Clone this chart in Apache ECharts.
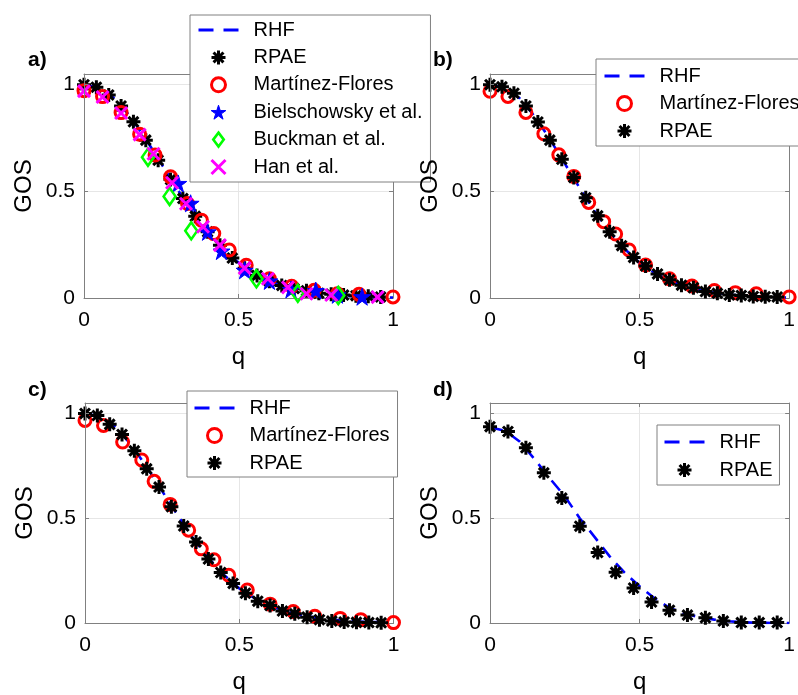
<!DOCTYPE html>
<html>
<head>
<meta charset="utf-8">
<script src="https://cdn.jsdelivr.net/npm/echarts@6/dist/echarts.min.js"></script>
<style>
  html, body { margin: 0; padding: 0; background: #ffffff; }
  #chart { width: 798px; height: 695px; }
</style>
</head>
<body>
<div id="chart"></div>
<script>
// ---------- axis ticks (all four panels) ----------
const qTicks = [0, 0.5, 1];
const gosTicks = [0, 0.5, 1];
const gosTop = 1.05;

// ---------- RHF curves ----------
const rhfQ = [0, 0.05, 0.1, 0.15, 0.2, 0.25, 0.3, 0.35, 0.4, 0.45, 0.5,
              0.55, 0.6, 0.65, 0.7, 0.75, 0.8, 0.85, 0.9, 0.95, 1.0];
const rhfABC = [1.0, 0.985, 0.935, 0.85, 0.745, 0.63, 0.515, 0.405, 0.31, 0.23, 0.165,
                0.118, 0.082, 0.056, 0.038, 0.025, 0.016, 0.010, 0.006, 0.004, 0.002];
const rhfD = [0.934, 0.918, 0.865, 0.78, 0.69, 0.605, 0.50, 0.41, 0.318, 0.24, 0.175,
              0.118, 0.072, 0.045, 0.028, 0.016, 0.008, 0.003, 0.001, 0.0, 0.0];

// ---------- RPAE ----------
const rpaeQ = [0, 0.04, 0.08, 0.12, 0.16, 0.2, 0.24, 0.28, 0.32, 0.36, 0.4, 0.44, 0.48,
               0.52, 0.56, 0.6, 0.64, 0.68, 0.72, 0.76, 0.8, 0.84, 0.88, 0.92, 0.96];
const rpaeA = [1.0, 0.988, 0.952, 0.90, 0.826, 0.74, 0.646, 0.555, 0.466, 0.383, 0.31, 0.247, 0.187,
               0.14, 0.106, 0.078, 0.059, 0.044, 0.034, 0.022, 0.017, 0.014, 0.011, 0.008, 0.005];
const rpaeB = [1.0, 0.99, 0.96, 0.90, 0.825, 0.74, 0.65, 0.565, 0.47, 0.385, 0.31, 0.245, 0.19,
               0.15, 0.113, 0.085, 0.06, 0.048, 0.03, 0.022, 0.014, 0.012, 0.007, 0.006, 0.005];
const rpaeC = [1.0, 0.99, 0.948, 0.90, 0.822, 0.736, 0.649, 0.555, 0.463, 0.387, 0.305, 0.241, 0.189,
               0.142, 0.104, 0.083, 0.057, 0.044, 0.028, 0.016, 0.009, 0.005, 0.003, 0.002, 0.001];
const rpaeQD = [0, 0.06, 0.12, 0.18, 0.24, 0.3, 0.36, 0.42, 0.48, 0.54, 0.6, 0.66, 0.72, 0.78, 0.84, 0.9, 0.96];
const rpaeD = [0.937, 0.914, 0.836, 0.717, 0.596, 0.462, 0.336, 0.242, 0.167, 0.10, 0.061,
               0.038, 0.025, 0.009, 0.002, 0.002, 0.002];

// ---------- Martínez-Flores ----------
const mfQA = [0, 0.06, 0.12, 0.18, 0.23, 0.28, 0.335, 0.38, 0.42, 0.47, 0.525, 0.6, 0.672, 0.745, 0.82, 0.89, 1.0];
const mfA  = [0.972, 0.944, 0.869, 0.768, 0.670, 0.568, 0.443, 0.365, 0.302, 0.225, 0.153, 0.09, 0.055, 0.036, 0.02, 0.017, 0.005];
const mfQB = [0, 0.06, 0.12, 0.18, 0.23, 0.28, 0.33, 0.38, 0.42, 0.465, 0.52, 0.6, 0.675, 0.75, 0.82, 0.89, 1.0];
const mfB  = [0.969, 0.945, 0.870, 0.770, 0.671, 0.570, 0.448, 0.358, 0.30, 0.225, 0.155, 0.09, 0.056, 0.035, 0.025, 0.02, 0.005];
const mfQC = [0, 0.06, 0.122, 0.184, 0.224, 0.276, 0.336, 0.377, 0.418, 0.466, 0.526, 0.6, 0.675, 0.745, 0.827, 0.894, 1.0];
const mfC  = [0.967, 0.943, 0.864, 0.778, 0.676, 0.566, 0.443, 0.354, 0.302, 0.228, 0.157, 0.09, 0.055, 0.032, 0.022, 0.016, 0.002];

// ---------- other measurements (panel a) ----------
const bielQ = [0.305, 0.345, 0.40, 0.445, 0.52, 0.60, 0.67, 0.75, 0.82, 0.90];
const bielV = [0.537, 0.444, 0.31, 0.22, 0.13, 0.08, 0.04, 0.035, 0.015, 0.006];
const buckQ = [0.207, 0.277, 0.347, 0.558, 0.692, 0.823];
const buckV = [0.66, 0.476, 0.315, 0.09, 0.022, 0.012];
const hanQ = [0, 0.06, 0.12, 0.18, 0.225, 0.285, 0.33, 0.385, 0.44, 0.52, 0.595, 0.66, 0.72, 0.80, 0.95];
const hanV = [0.97, 0.942, 0.867, 0.766, 0.676, 0.54, 0.442, 0.334, 0.248, 0.14, 0.09, 0.05, 0.02, 0.014, 0.004];

// ---------- look ----------
const FONT = '"Liberation Sans", Arial, Helvetica, sans-serif';
const BOX = '#808080';
const GRIDLINE = '#e6e6e6';

const ASTERISK = 'path://M0,-10L0,10M-10,0L10,0M-7.07,-7.07L7.07,7.07M-7.07,7.07L7.07,-7.07';
const PENTAGRAM = 'path://M0,-10L2.245,-3.09L9.511,-3.09L3.633,1.18L5.878,8.09L0,3.82L-5.878,8.09L-3.633,1.18L-9.511,-3.09L-2.245,-3.09Z';
const CROSS = 'path://M-5,-5L5,5M-5,5L5,-5';
const DIAMOND = 'path://M0,-8L6,0L0,8L-6,0Z';

const kinds = {
  'RHF': { type: 'line', symbol: 'none', lineStyle: { color: '#0000ff', width: 2.6, type: [13, 8] } },
  'RPAE': { type: 'scatter', symbol: ASTERISK, symbolSize: 14,
            itemStyle: { color: 'rgba(0,0,0,0)', borderColor: '#000000', borderWidth: 3, opacity: 1 } },
  'Martínez-Flores': { type: 'scatter', symbol: 'circle', symbolSize: 12,
            itemStyle: { color: 'rgba(0,0,0,0)', borderColor: '#ff0000', borderWidth: 3, opacity: 1 } },
  'Bielschowsky et al.': { type: 'scatter', symbol: PENTAGRAM, symbolSize: 17,
            itemStyle: { color: '#0000ff', borderColor: '#0000ff', borderWidth: 1, opacity: 1 } },
  'Buckman et al.': { type: 'scatter', symbol: DIAMOND, symbolSize: [12, 17],
            itemStyle: { color: 'rgba(0,0,0,0)', borderColor: '#00ff00', borderWidth: 2.6, opacity: 1 } },
  'Han et al.': { type: 'scatter', symbol: CROSS, symbolSize: 12,
            itemStyle: { color: 'rgba(0,0,0,0)', borderColor: '#ff00ff', borderWidth: 3, opacity: 1 } }
};

function pairs(xs, ys) { return xs.map((x, i) => [x, ys[i]]); }

const panels = [
  {
    tag: 'a)', tagPos: [28, 50],
    grid: { left: 84, top: 74, width: 309, height: 224 },
    legend: { left: 190, top: 15, padding: [5, 8, 5, 7], gap: 7.4 },
    curves: [
      ['RHF', rhfQ, rhfABC],
      ['RPAE', rpaeQ, rpaeA],
      ['Martínez-Flores', mfQA, mfA],
      ['Bielschowsky et al.', bielQ, bielV],
      ['Buckman et al.', buckQ, buckV],
      ['Han et al.', hanQ, hanV]
    ]
  },
  {
    tag: 'b)', tagPos: [433, 50],
    grid: { left: 490, top: 74, width: 310, height: 224 },
    legend: { left: 596, top: 59, padding: [7, 8, 5, 7], gap: 7.5 },
    curves: [
      ['RHF', rhfQ, rhfABC],
      ['Martínez-Flores', mfQB, mfB],
      ['RPAE', rpaeQ, rpaeB]
    ]
  },
  {
    tag: 'c)', tagPos: [28, 380],
    grid: { left: 85, top: 403, width: 308.5, height: 223 },
    legend: { left: 187, top: 391, padding: [7, 8, 4, 6], gap: 7.5 },
    curves: [
      ['RHF', rhfQ, rhfABC],
      ['Martínez-Flores', mfQC, mfC],
      ['RPAE', rpaeQ, rpaeC]
    ]
  },
  {
    tag: 'd)', tagPos: [433, 380],
    grid: { left: 490, top: 403, width: 310, height: 223 },
    legend: { left: 657, top: 425, padding: [7, 7, 5, 6], gap: 8 },
    curves: [
      ['RHF', rhfQ, rhfD],
      ['RPAE', rpaeQD, rpaeD]
    ]
  }
];

const option = {
  animation: false,
  backgroundColor: '#ffffff',
  textStyle: { fontFamily: FONT },
  title: [], grid: [], xAxis: [], yAxis: [], legend: [], series: []
};

function legendItem(name) {
  const k = kinds[name];
  if (k.type === 'line') {
    return {
      name,
      itemStyle: { color: 'rgba(0,0,0,0)', borderColor: 'rgba(0,0,0,0)', borderWidth: 0 },
      lineStyle: { color: '#0000ff', width: 3, type: [15, 10], opacity: 1 }
    };
  }
  return { name, icon: k.symbol, itemStyle: Object.assign({}, k.itemStyle) };
}

panels.forEach((p, i) => {
  option.title.push({
    text: p.tag, left: p.tagPos[0], top: p.tagPos[1], padding: 0,
    textStyle: { fontFamily: FONT, fontSize: 21, fontWeight: 'bold', color: '#000' }
  });
  option.grid.push(Object.assign({ containLabel: false }, p.grid));

  const xRange = {
    min: qTicks[0], max: qTicks[qTicks.length - 1], interval: qTicks[1] - qTicks[0]
  };
  const yRange = {
    min: gosTicks[0], max: gosTop, interval: gosTicks[1] - gosTicks[0]
  };
  const edge = { show: true, onZero: false, lineStyle: { color: BOX, width: 1 } };
  const tick = { show: true, inside: true, length: 4, lineStyle: { color: BOX } };

  // bottom axis: labels, name and vertical grid lines
  option.xAxis.push(Object.assign({
    type: 'value', gridIndex: i, position: 'bottom',
    name: 'q', nameLocation: 'middle', nameGap: 47,
    nameTextStyle: { fontFamily: FONT, fontSize: 24, color: '#000' },
    axisLine: edge, axisTick: tick,
    axisLabel: { fontFamily: FONT, fontSize: 21, color: '#000', margin: 12 },
    splitLine: { show: true, lineStyle: { color: GRIDLINE, width: 1 } }
  }, xRange));
  // top edge of the box
  option.xAxis.push(Object.assign({
    type: 'value', gridIndex: i, position: 'top',
    axisLine: edge, axisTick: tick,
    axisLabel: { show: false }, splitLine: { show: false }
  }, xRange));
  // left axis: labels and name, drawn above neighbouring legends
  option.yAxis.push(Object.assign({
    type: 'value', gridIndex: i, position: 'left', z: 6,
    name: 'GOS', nameLocation: 'middle', nameGap: 48, nameRotate: 90,
    nameTextStyle: { fontFamily: FONT, fontSize: 24, color: '#000' },
    axisLine: edge, axisTick: tick,
    axisLabel: { fontFamily: FONT, fontSize: 21, color: '#000', margin: 9,
                 showMaxLabel: false,
                 formatter: v => (gosTicks.indexOf(v) >= 0 ? String(v) : '') },
    splitLine: { show: false }
  }, yRange));
  // right edge of the box, carrying the horizontal grid lines
  option.yAxis.push(Object.assign({
    type: 'value', gridIndex: i, position: 'right',
    axisLine: edge, axisTick: tick,
    axisLabel: { show: false },
    splitLine: { show: true, lineStyle: { color: GRIDLINE, width: 1 } }
  }, yRange));

  option.legend.push({
    orient: 'vertical', left: p.legend.left, top: p.legend.top,
    padding: p.legend.padding, itemGap: p.legend.gap,
    itemWidth: 40, itemHeight: 14, selectedMode: false,
    backgroundColor: '#ffffff', borderColor: BOX, borderWidth: 1, borderRadius: 0,
    textStyle: { fontFamily: FONT, fontSize: 20, color: '#000', lineHeight: 20, padding: [0, 0, 0, 10] },
    data: p.curves.map(c => legendItem(c[0]))
  });

  p.curves.forEach(c => {
    const k = kinds[c[0]];
    const s = {
      name: c[0], type: k.type, xAxisIndex: 2 * i, yAxisIndex: 2 * i,
      data: pairs(c[1], c[2]), silent: true, z: 2,
      emphasis: { disabled: true }
    };
    if (k.type === 'line') {
      s.symbol = 'none';
      s.showSymbol = false;
      s.lineStyle = k.lineStyle;
      s.clip = true;
    } else {
      s.symbol = k.symbol;
      s.symbolSize = k.symbolSize;
      s.itemStyle = k.itemStyle;
      s.clip = false;
    }
    option.series.push(s);
  });
});

const chart = echarts.init(document.getElementById('chart'), null, { renderer: 'canvas' });
chart.setOption(option);
</script>
</body>
</html>
